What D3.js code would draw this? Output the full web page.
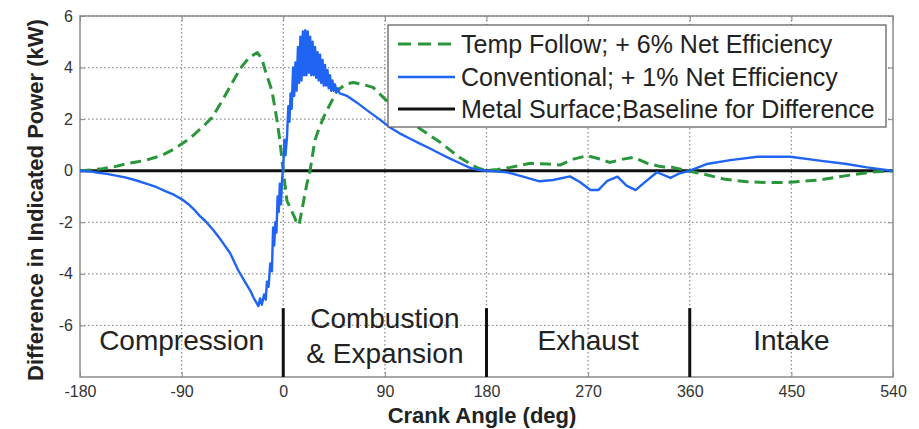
<!DOCTYPE html>
<html>
<head>
<meta charset="utf-8">
<script src="https://cdn.jsdelivr.net/npm/d3@7"></script>
<style>
  html, body { margin: 0; padding: 0; background: #fff; }
  svg { display: block; font-family: "Liberation Sans", Arial, sans-serif; }
</style>
</head>
<body>
<svg id="chart" width="919" height="429"></svg>
<script>
// ---------------- DATA ----------------
const xTicks = [-180, -90, 0, 90, 180, 270, 360, 450, 540];
const yTicks = [-6, -4, -2, 0, 2, 4, 6];

const seriesNames = [
  "Temp Follow; + 6% Net Efficiency",
  "Conventional; + 1% Net Efficiency",
  "Metal Surface;Baseline for Difference"
];

// Temp Follow (green dashed): [crank angle, kW difference]
const tempFollow = [
  [-180,0],[-170,0.03],[-160,0.08],[-150,0.15],[-140,0.26],[-130,0.34],[-122,0.40],
  [-113,0.52],[-105,0.65],[-97,0.83],[-90,1.04],[-82,1.28],[-75,1.56],[-69,1.80],
  [-63,2.07],[-54,2.72],[-46,3.35],[-38,3.97],[-30,4.4],[-23,4.58],[-19,4.35],
  [-16,3.9],[-10,3.1],[-5.5,1.95],[-3,1.17],[0,0],[3.3,-1.17],[7.8,-1.6],[10,-1.8],
  [12,-2.05],[14,-2.1],[17.5,-1.3],[20.5,-0.6],[23.7,0],[28,1.17],[31,1.56],
  [36,2.1],[40,2.45],[47.6,3.1],[55,3.35],[62,3.42],[70,3.35],[79.5,3.23],
  [92,2.7],[105,2.2],[121,1.63],[139,1.1],[156.6,0.5],[171.6,0.12],[180,0],
  [190,0.05],[201,0.13],[219,0.29],[234,0.26],[245,0.22],[257,0.45],[269,0.58],
  [281,0.45],[289,0.32],[301,0.45],[310,0.52],[322,0.29],[334,0.16],[345,0.13],
  [358,0],[372,-0.13],[390,-0.32],[411,-0.43],[430,-0.46],[449,-0.45],
  [475,-0.36],[499,-0.19],[520,-0.06],[540,0]
];

// Conventional (blue solid)
const conventional = [
  [-180,0],[-170,-0.03],[-165,-0.07],[-155,-0.13],[-140,-0.26],[-130,-0.38],
  [-120,-0.52],[-112,-0.64],[-105,-0.78],[-97,-0.93],[-90,-1.1],[-84,-1.3],
  [-78,-1.55],[-74,-1.75],[-69,-1.95],[-62,-2.3],[-55,-2.7],[-47,-3.2],
  [-40,-3.85],[-34,-4.3],[-29,-4.67],[-26,-4.95],[-24,-5.1],[-22,-5.25],
  [-20.5,-4.95],[-19,-5.2],[-17,-4.8],[-15.5,-5.0],[-14.4,-4.3],[-13,-4.5],
  [-11.5,-3.6],[-10,-3.9],[-9,-2.2],[-8,-2.9],[-7,-2.0],[-6,-2.4],[-5,-1.0],
  [-4,-1.6],[-3,-0.5],[-2,-1.3],[-1,-0.3],[0,0.1],[1,1.2],[2,0.6],[3.3,1.3],
  [4.5,2.5],[5.5,1.9],[6.5,3.0],[7.5,2.4],[8.7,4.0],[9.7,2.9],[10.8,4.2],
  [11.8,3.1],[13,4.8],[14,3.4],[15.2,5.2],[16.2,3.5],[17.4,5.4],[18.4,3.7],
  [19.5,5.45],[20.5,3.7],[21.7,5.4],[22.7,3.8],[23.8,5.2],[24.8,3.7],[26,5.0],
  [27,3.7],[28.2,4.8],[29.2,3.6],[30.4,4.6],[31.4,3.5],[32.6,4.5],[33.6,3.4],
  [34.8,4.3],[35.8,3.3],[37,4.1],[38,3.3],[39.2,3.9],[40.2,3.2],[41.4,3.7],
  [42.4,3.1],[43.6,3.5],[44.6,3.1],[45.8,3.35],[47,3.05],[48,3.2],[50,3.0],
  [56.5,2.9],[65,2.65],[74,2.35],[85,2.0],[94.6,1.68],[103,1.45],[112,1.25],
  [121,1.05],[130,0.86],[139,0.66],[147.7,0.47],[156,0.3],[165,0.12],[172,0.04],
  [180,0],[190,-0.03],[198,-0.06],[210,-0.2],[227,-0.41],[239,-0.36],[254,-0.22],
  [263,-0.45],[272,-0.75],[279,-0.75],[287,-0.39],[296,-0.23],[304,-0.58],
  [312,-0.75],[320,-0.45],[331,-0.06],[343,-0.28],[351,-0.1],[360,0],
  [375,0.26],[396,0.41],[420,0.54],[449,0.54],[475,0.39],[499,0.26],[517,0.13],
  [537,0.01],[540,0]
];

// Metal surface baseline (black)
const metalSurface = [[-180,0],[540,0]];

// Stroke phase separators and labels
const phaseBoundaries = [0, 180, 360];
const phaseLabels = [
  { lines: ["Compression"], at: -90 },
  { lines: ["Combustion", "& Expansion"], at: 90 },
  { lines: ["Exhaust"], at: 270 },
  { lines: ["Intake"], at: 450 }
];

const xTitle = "Crank Angle (deg)";
const yTitle = "Difference in Indicated Power (kW)";

// ---------------- LAYOUT ----------------
const svg = d3.select("#chart");
const plotL = 80, plotR = 893, plotT = 16, plotB = 377;

const x = d3.scaleLinear().domain([-180, 540]).range([plotL, plotR]);
const y = d3.scaleLinear().domain([-8, 6]).range([plotB, plotT]);

const GREEN = "#2a963a", BLUE = "#1f64f2", BLACK = "#111";

// grid
const grid = svg.append("g");
grid.selectAll(".vg").data(xTicks.slice(1, -1)).join("line")
  .attr("x1", d => x(d)).attr("x2", d => x(d))
  .attr("y1", plotT).attr("y2", plotB)
  .attr("stroke", "#8f8f8f").attr("stroke-width", 1.3)
  .attr("stroke-dasharray", "1.5,2.5");
grid.selectAll(".hg").data(yTicks).join("line")
  .attr("x1", plotL).attr("x2", plotR)
  .attr("y1", d => y(d)).attr("y2", d => y(d))
  .attr("stroke", "#8f8f8f").attr("stroke-width", 1.3)
  .attr("stroke-dasharray", "1.5,2.5");

// axes (ticks inward, labels)
const fmt = d => String(d);
svg.append("g").attr("transform", `translate(0,${plotB})`)
  .call(d3.axisBottom(x).tickValues(xTicks).tickSize(-5).tickPadding(9).tickFormat(fmt));
svg.append("g").attr("transform", `translate(${plotL},0)`)
  .call(d3.axisLeft(y).tickValues(yTicks).tickSize(-5).tickPadding(7).tickFormat(fmt));
svg.append("g").attr("transform", `translate(0,${plotT})`)
  .call(d3.axisTop(x).tickValues(xTicks).tickSize(-5).tickFormat(""));
svg.append("g").attr("transform", `translate(${plotR},0)`)
  .call(d3.axisRight(y).tickValues(yTicks).tickSize(-5).tickFormat(""));
svg.selectAll(".domain").remove();
svg.selectAll(".tick line").attr("stroke", "#888");
svg.selectAll(".tick text")
  .attr("font-family", "Liberation Sans, Arial, sans-serif")
  .attr("font-size", 16).attr("fill", "#333");

// frame
svg.append("rect").attr("x", plotL).attr("y", plotT)
  .attr("width", plotR - plotL).attr("height", plotB - plotT)
  .attr("fill", "none").attr("stroke", "#8c8c8c").attr("stroke-width", 1.5);

// lines
const line = d3.line().x(d => x(d[0])).y(d => y(d[1]));
svg.append("path").datum(metalSurface).attr("d", line)
  .attr("fill", "none").attr("stroke", BLACK).attr("stroke-width", 3);
svg.append("path").datum(tempFollow).attr("d", line)
  .attr("fill", "none").attr("stroke", GREEN).attr("stroke-width", 3)
  .attr("stroke-dasharray", "11,6").attr("stroke-linejoin", "round");
svg.append("path").datum(conventional).attr("d", line)
  .attr("fill", "none").attr("stroke", BLUE).attr("stroke-width", 2.4)
  .attr("stroke-linejoin", "round");

// phase separators
svg.selectAll(".sep").data(phaseBoundaries).join("line")
  .attr("x1", d => x(d)).attr("x2", d => x(d))
  .attr("y1", y(-5.33)).attr("y2", plotB)
  .attr("stroke", BLACK).attr("stroke-width", 3);

// phase labels
phaseLabels.forEach(p => {
  const t = svg.append("text").attr("text-anchor", "middle")
    .attr("font-size", 28).attr("fill", "#222");
  if (p.lines.length === 1) {
    t.append("tspan").attr("x", x(p.at)).attr("y", 350).text(p.lines[0]);
  } else {
    t.append("tspan").attr("x", x(p.at)).attr("y", 328).text(p.lines[0]);
    t.append("tspan").attr("x", x(p.at)).attr("y", 363).text(p.lines[1]);
  }
});

// legend
const lg = svg.append("g");
lg.append("rect").attr("x", 388).attr("y", 25).attr("width", 498).attr("height", 102)
  .attr("fill", "#fff").attr("stroke", "#555").attr("stroke-width", 1.2);
const legendStyles = [
  { color: GREEN, w: 3, dash: "13,7" },
  { color: BLUE, w: 2.5, dash: null },
  { color: BLACK, w: 3, dash: null }
];
const rowY = [44, 77, 109];
seriesNames.forEach((name, i) => {
  const s = legendStyles[i];
  lg.append("line").attr("x1", 398).attr("x2", 455)
    .attr("y1", rowY[i]).attr("y2", rowY[i])
    .attr("stroke", s.color).attr("stroke-width", s.w)
    .attr("stroke-dasharray", s.dash);
  lg.append("text").attr("x", 461).attr("y", rowY[i] + 9)
    .attr("font-size", 25).attr("fill", "#222").text(name);
});

// axis titles
svg.append("text").attr("x", 482).attr("y", 423).attr("text-anchor", "middle")
  .attr("font-size", 22).attr("font-weight", "bold").attr("fill", "#222").text(xTitle);
svg.append("text").attr("transform", "translate(43,200) rotate(-90)")
  .attr("text-anchor", "middle")
  .attr("font-size", 22).attr("font-weight", "bold").attr("fill", "#222").text(yTitle);
</script>
</body>
</html>
